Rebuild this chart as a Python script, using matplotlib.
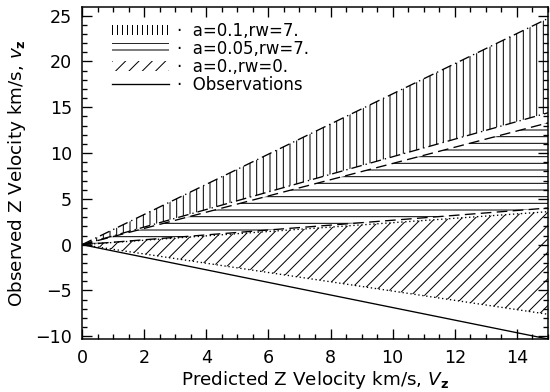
import numpy as np
import matplotlib
matplotlib.use('Agg')
import matplotlib.pyplot as plt
from matplotlib.ticker import MultipleLocator

matplotlib.rcParams['font.family'] = 'DejaVu Sans'
matplotlib.rcParams['hatch.linewidth'] = 0.6
matplotlib.rcParams['xtick.direction'] = 'in'
matplotlib.rcParams['ytick.direction'] = 'in'
matplotlib.rcParams['xtick.top'] = True
matplotlib.rcParams['ytick.right'] = True

# predicted velocity (end points of the linear relations)
v_pred = np.array([0., 15.])
# a=0.1, rw=7.
a01_hi = np.array([0., 24.7])
a01_lo = np.array([0., 14.4])
# a=0.05, rw=7.
a005_hi = np.array([0., 13.3])
a005_lo = np.array([0., 4.0])
# a=0., rw=0.
a0_hi = np.array([0., 3.6])
a0_lo = np.array([0., -7.6])
# observations
obs = np.array([0., -10.3])

dpi = 120
fig = plt.figure(figsize=(550/dpi, 392/dpi), dpi=dpi)
ax = fig.add_axes([82/550, 1-339/392, (548-82)/550, (339-7)/392])

lw = 0.8
# agg hatch cell is dpi px wide -> 3 marks = ~6.7px spacing
ax.fill_between(v_pred, a01_lo, a01_hi, facecolor='none', edgecolor='k', linewidth=0, hatch='|||')
ax.fill_between(v_pred, a005_lo, a005_hi, facecolor='none', edgecolor='k', linewidth=0, hatch='---')
ax.fill_between(v_pred, a0_lo, a0_hi, facecolor='none', edgecolor='k', linewidth=0, hatch='///')

ax.plot(v_pred, a01_hi, color='k', lw=lw, linestyle=(0, (8, 3, 1, 3)))
ax.plot(v_pred, a01_lo, color='k', lw=lw, linestyle=(0, (8, 3, 1, 3)))
ax.plot(v_pred, a005_hi, color='k', lw=lw, linestyle=(0, (8, 4)))
ax.plot(v_pred, a005_lo, color='k', lw=lw, linestyle=(0, (8, 4)))
ax.plot(v_pred, a0_hi, color='k', lw=lw, linestyle=(0, (1, 2)))
ax.plot(v_pred, a0_lo, color='k', lw=lw, linestyle=(0, (1, 2)))
ax.plot(v_pred, obs, color='k', lw=lw)

# legend handles
h1 = ax.fill_between([], [], [], facecolor='none', edgecolor='k', linewidth=0, hatch='||||', label='·  a=0.1,rw=7.')
h2 = ax.fill_between([], [], [], facecolor='none', edgecolor='k', linewidth=0, hatch='---', label='·  a=0.05,rw=7.')
h3 = ax.fill_between([], [], [], facecolor='none', edgecolor='k', linewidth=0, hatch='///', label='·  a=0.,rw=0.')
h4, = ax.plot([], [], color='k', lw=lw, label='·  Observations')
ax.legend(handles=[h1, h2, h3, h4], loc='upper left', bbox_to_anchor=(0.065, 0.955),
          frameon=False, fontsize=10, handlelength=3.4, handleheight=0.6,
          labelspacing=0.0, handletextpad=0.5, borderaxespad=0, borderpad=0)

ax.set_xlim(0, 15)
ax.set_ylim(-10.3, 25.95)
ax.xaxis.set_major_locator(MultipleLocator(2))
ax.xaxis.set_minor_locator(MultipleLocator(0.5))
ax.yaxis.set_major_locator(MultipleLocator(5))
ax.yaxis.set_minor_locator(MultipleLocator(1))
ax.tick_params(which='major', length=6, width=0.8, labelsize=10.5, pad=6)
ax.tick_params(which='minor', length=3, width=0.8)
for s in ax.spines.values():
    s.set_linewidth(0.9)

ax.set_xlabel(r'Predicted Z Velocity km/s, $V_\mathbf{z}$', fontsize=11, labelpad=1)
ax.set_ylabel(r'Observed Z Velocity km/s, $\mathit{v}_\mathbf{z}$', fontsize=11, labelpad=4)

fig.savefig('out.png', dpi=dpi)
